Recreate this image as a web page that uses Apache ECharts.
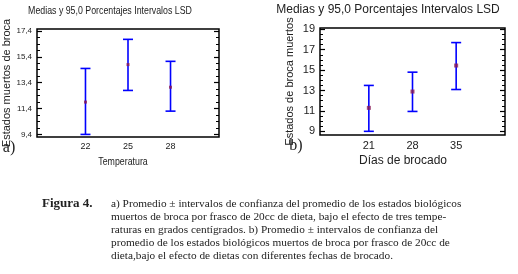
<!DOCTYPE html>
<html>
<head>
<meta charset="utf-8">
<script src="https://cdn.jsdelivr.net/npm/echarts@6/dist/echarts.min.js"></script>
<style>
  html, body { margin: 0; padding: 0; background: #fff; }
  #chart { width: 518px; height: 274px; }
</style>
</head>
<body>
<div id="chart"></div>
<script>
// a) temperatura
const tempCats = [22, 25, 28]
const tempMeans = [11.9, 14.8, 13.05]
const tempLower = [9.4, 12.8, 11.2]
const tempUpper = [14.5, 16.75, 15.05]
const tempTicks = [9.4, 11.4, 13.4, 15.4, 17.4]

// b) dias de brocado
const dayCats = [21, 28, 35]
const dayMeans = [11.3, 12.9, 15.45]
const dayLower = [9.0, 10.95, 13.1]
const dayUpper = [13.5, 14.8, 17.7]
const dayTicks = [9, 11, 13, 15, 17, 19]

const captionLines = [
    'a) Promedio ± intervalos de confianza del promedio de los estados biológicos',
    'muertos de broca por frasco de 20cc de dieta, bajo el efecto de tres tempe-',
    'raturas en grados centígrados. b) Promedio ± intervalos de confianza del',
    'promedio de los estados biológicos muertos de broca por frasco de 20cc de',
    'dieta,bajo el efecto de dietas con diferentes fechas de brocado.',
]

const SANS = '"Liberation Sans", Arial, sans-serif'
const SERIF = '"Liberation Serif", "DejaVu Serif", serif'

// minor ticks every 0.5 between the axis bounds
const minorTicks = (min, max, major) => {
    const out = []
    for (let v = major[0] - 2; v <= max; v += 0.5) {
        const r = Math.round(v * 100) / 100
        if (r >= min && r <= max && !major.some(m => Math.abs(m - r) < 1e-6)) out.push(r)
    }
    return out
}

const errorBar = (params, api) => {
    const x = api.value(0)
    const lo = api.coord([x, api.value(1)])
    const hi = api.coord([x, api.value(2)])
    const hw = 5
    const style = { stroke: '#0000ff', lineWidth: 1.6 }
    return {
        type: 'group',
        children: [
            { type: 'line', shape: { x1: lo[0], y1: lo[1], x2: hi[0], y2: hi[1] }, style },
            { type: 'line', shape: { x1: hi[0] - hw, y1: hi[1], x2: hi[0] + hw, y2: hi[1] }, style },
            { type: 'line', shape: { x1: lo[0] - hw, y1: lo[1], x2: lo[0] + hw, y2: lo[1] }, style },
        ]
    }
}

// 4 y axes per grid: left major/minor, right major/minor
const makeYAxes = (gridIndex, min, max, major, labelSize, fmt, name, nameGap) => {
    const minor = minorTicks(min, max, major)
    const base = {
        type: 'value', gridIndex, min, max,
        axisLine: { show: false },
        splitLine: { show: false },
    }
    return [
        {
            ...base, position: 'left',
            name, nameLocation: 'middle', nameGap,
            nameTextStyle: { fontFamily: SANS, fontSize: 11, color: '#222' },
            axisTick: { show: true, inside: true, length: 5, customValues: major, lineStyle: { color: '#000', width: 1.2 } },
            axisLabel: { show: true, customValues: major, formatter: fmt, margin: 5, fontFamily: SANS, fontSize: labelSize, color: '#222' },
        },
        {
            ...base, position: 'left',
            axisTick: { show: true, inside: true, length: 3, customValues: minor, lineStyle: { color: '#000', width: 1 } },
            axisLabel: { show: false },
        },
        {
            ...base, position: 'right',
            axisTick: { show: true, inside: true, length: 5, customValues: major, lineStyle: { color: '#000', width: 1.2 } },
            axisLabel: { show: false },
        },
        {
            ...base, position: 'right',
            axisTick: { show: true, inside: true, length: 3, customValues: minor, lineStyle: { color: '#000', width: 1 } },
            axisLabel: { show: false },
        },
    ]
}

const chart = echarts.init(document.getElementById('chart'))

const option = {
    backgroundColor: '#fff',
    animation: false,
    grid: [
        { left: 35, top: 29, width: 184, height: 108, show: true, borderColor: '#000', borderWidth: 1.5, backgroundColor: 'transparent' },
        { left: 320, top: 28, width: 185, height: 107, show: true, borderColor: '#000', borderWidth: 1.5, backgroundColor: 'transparent' },
    ],
    xAxis: [
        {
            type: 'value', gridIndex: 0, min: 18.58, max: 31.42,
            axisLine: { show: false }, axisTick: { show: false }, splitLine: { show: false },
            axisLabel: { customValues: tempCats, margin: 5, fontFamily: SANS, fontSize: 9, color: '#222' },
        },
        {
            type: 'value', gridIndex: 1, min: 13.17, max: 42.83,
            axisLine: { show: false }, axisTick: { show: false }, splitLine: { show: false },
            axisLabel: { customValues: dayCats, margin: 5, fontFamily: SANS, fontSize: 11, color: '#222' },
        },
    ],
    yAxis: [
        ...makeYAxes(0, 9.2, 17.55, tempTicks, 8, v => v.toFixed(1).replace('.', ','), 'Estados muertos de broca', 25),
        ...makeYAxes(1, 8.64, 19.13, dayTicks, 11, v => String(v), 'Estados de broca muertos', 25),
    ],
    series: [
        {
            type: 'custom', xAxisIndex: 0, yAxisIndex: 0,
            renderItem: errorBar,
            encode: { x: 0, y: [1, 2] },
            data: tempCats.map((c, i) => [c, tempLower[i], tempUpper[i]]),
        },
        {
            type: 'scatter', xAxisIndex: 0, yAxisIndex: 0,
            symbol: 'rect', symbolSize: 3,
            itemStyle: { color: '#8a1a55' },
            data: tempCats.map((c, i) => [c, tempMeans[i]]),
        },
        {
            type: 'custom', xAxisIndex: 1, yAxisIndex: 4,
            renderItem: errorBar,
            encode: { x: 0, y: [1, 2] },
            data: dayCats.map((c, i) => [c, dayLower[i], dayUpper[i]]),
        },
        {
            type: 'scatter', xAxisIndex: 1, yAxisIndex: 4,
            symbol: 'rect', symbolSize: 4,
            itemStyle: { color: '#8a1a55' },
            data: dayCats.map((c, i) => [c, dayMeans[i]]),
        },
    ],
    graphic: [
        // titulos (el izquierdo en letra estrecha)
        { type: 'text', x: 110, y: 11, scaleX: 0.8, style: { text: 'Medias y 95,0 Porcentajes Intervalos LSD', font: '11px ' + SANS, fill: '#222', align: 'center', verticalAlign: 'middle' } },
        { type: 'text', x: 388, y: 10, style: { text: 'Medias y 95,0 Porcentajes Intervalos LSD', font: '12px ' + SANS, fill: '#222', align: 'center', verticalAlign: 'middle' } },
        // nombres eje x
        { type: 'text', x: 123, y: 162, scaleX: 0.8, style: { text: 'Temperatura', font: '11px ' + SANS, fill: '#222', align: 'center', verticalAlign: 'middle' } },
        { type: 'text', x: 403, y: 161, style: { text: 'Días de brocado', font: '12px ' + SANS, fill: '#222', align: 'center', verticalAlign: 'middle' } },
        // a) b)
        { type: 'text', x: 9, y: 148, style: { text: 'a)', font: '16px ' + SERIF, fill: '#222', align: 'center', verticalAlign: 'middle' } },
        { type: 'text', x: 296, y: 146, style: { text: 'b)', font: '16px ' + SERIF, fill: '#222', align: 'center', verticalAlign: 'middle' } },
        // pie de figura
        { type: 'text', x: 42, y: 204, style: { text: 'Figura 4.', font: 'bold 13px ' + SERIF, fill: '#222', align: 'left', verticalAlign: 'middle' } },
        ...captionLines.map((t, i) => ({
            type: 'text', x: 111, y: 204 + i * 13,
            style: { text: t, font: '11.3px ' + SERIF, fill: '#222', align: 'left', verticalAlign: 'middle' }
        })),
    ],
}

option && chart.setOption(option)
</script>
</body>
</html>
